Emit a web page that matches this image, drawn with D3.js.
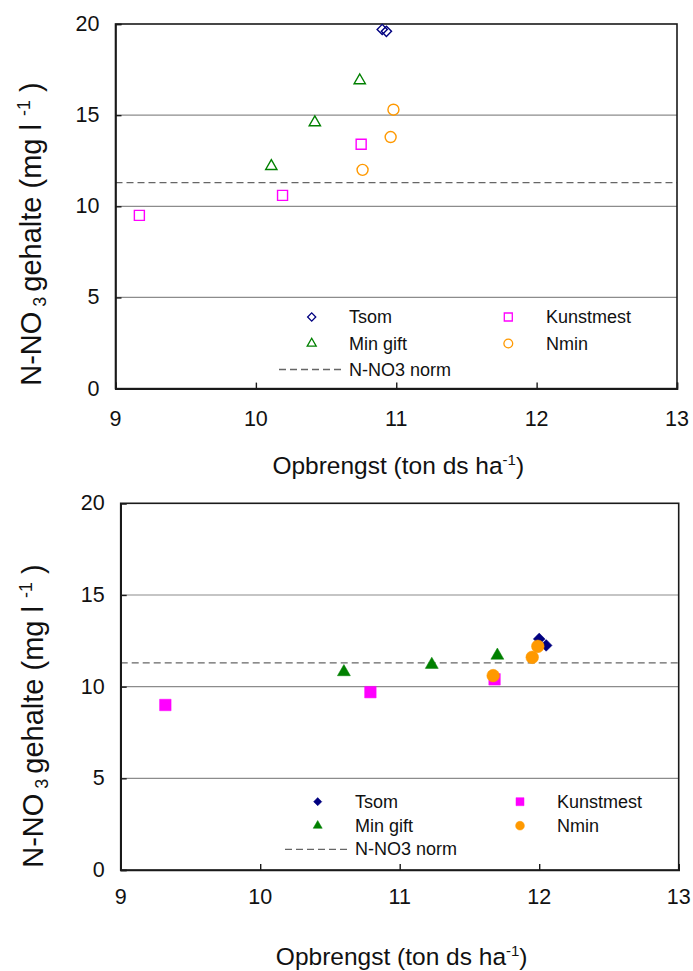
<!DOCTYPE html>
<html>
<head>
<meta charset="utf-8">
<script src="https://cdn.jsdelivr.net/npm/d3@7"></script>
<style>
  html, body { margin: 0; padding: 0; background: #fff; }
  svg { display: block; }
  text { font-family: "Liberation Sans", Arial, sans-serif; fill: #111; }
</style>
</head>
<body>
<svg id="chart" width="693" height="971"></svg>
<script>
// ---------- data ----------
const seriesNames = ["Tsom", "Kunstmest", "Min gift", "Nmin"];
const normLabel = "N-NO3 norm";
const xTicks = [9, 10, 11, 12, 13];
const yTicks = [0, 5, 10, 15, 20];
const gridValues = [5, 10, 15];
const normValue = 11.3;

// top panel (open markers)
const tsomX1 = [10.90, 10.93];
const tsomY1 = [19.7, 19.6];
const kunstX1 = [9.17, 10.19, 10.75];
const kunstY1 = [9.5, 10.6, 13.4];
const minX1 = [10.11, 10.42, 10.74];
const minY1 = [12.2, 14.6, 16.9];
const nminX1 = [10.76, 10.96, 10.98];
const nminY1 = [12.0, 13.8, 15.3];

// bottom panel (filled markers)
const tsomX2 = [12.00, 12.05];
const tsomY2 = [12.6, 12.25];
const kunstX2 = [9.32, 10.79, 11.68];
const kunstY2 = [9.0, 9.7, 10.4];
const minX2 = [10.60, 11.23, 11.70];
const minY2 = [10.8, 11.2, 11.7];
const nminX2 = [11.67, 11.95, 11.99];
const nminY2 = [10.6, 11.6, 12.2];

const colors = {"Tsom": "#000080", "Kunstmest": "#FF00FF", "Min gift": "#008000", "Nmin": "#FF9900"};
const shapes = {"Tsom": "diamond", "Kunstmest": "square", "Min gift": "triangle", "Nmin": "circle"};

const svg = d3.select("#chart");

function symbolPath(shape, scale) {
  const s = scale || 1;
  if (shape === "diamond") return d3.symbol(d3.symbolSquare, 52 * s * s)();
  if (shape === "square") return d3.symbol(d3.symbolSquare, 100 * s * s)();
  if (shape === "triangle") return d3.symbol(d3.symbolTriangle, 55 * s * s)();
  return d3.symbol(d3.symbolCircle, 95 * s * s)();
}

function drawPanel(cfg) {
  const x = d3.scaleLinear().domain([9, 13]).range([cfg.left, cfg.right]);
  const y = d3.scaleLinear().domain([0, 20]).range([cfg.bottom, cfg.top]);
  const g = svg.append("g");

  // gridlines
  g.selectAll("line.grid").data(gridValues).join("line")
    .attr("x1", cfg.left).attr("x2", cfg.right)
    .attr("y1", d => y(d)).attr("y2", d => y(d))
    .attr("stroke", "#8c8c8c").attr("stroke-width", 1.2);

  // norm line
  g.append("line")
    .attr("x1", cfg.left).attr("x2", cfg.right)
    .attr("y1", y(normValue)).attr("y2", y(normValue))
    .attr("stroke", "#666").attr("stroke-width", 1.3)
    .attr("stroke-dasharray", "7,4");

  // frame
  g.append("rect")
    .attr("x", cfg.left).attr("y", cfg.top)
    .attr("width", cfg.right - cfg.left).attr("height", cfg.bottom - cfg.top)
    .attr("fill", "none").attr("stroke", "#1a1a1a").attr("stroke-width", 1.6);

  // axes (ticks inward)
  const xAxis = d3.axisBottom(x).tickValues(xTicks).tickSize(-6).tickFormat("");
  g.append("g").attr("transform", `translate(0,${cfg.bottom})`).call(xAxis)
    .call(a => a.select(".domain").attr("stroke", "#1a1a1a").attr("stroke-width", 1.6))
    .call(a => a.selectAll(".tick line").attr("stroke", "#1a1a1a").attr("stroke-width", 1.4));
  const yAxis = d3.axisLeft(y).tickValues(yTicks).tickSize(-6).tickFormat("");
  g.append("g").attr("transform", `translate(${cfg.left},0)`).call(yAxis)
    .call(a => a.select(".domain").attr("stroke", "#1a1a1a").attr("stroke-width", 1.6))
    .call(a => a.selectAll(".tick line").attr("stroke", "#1a1a1a").attr("stroke-width", 1.4));

  // tick labels
  g.selectAll("text.xt").data(xTicks).join("text")
    .attr("x", d => x(d)).attr("y", cfg.xLabelY)
    .attr("text-anchor", "middle").attr("dominant-baseline", "central")
    .attr("font-size", 21.5).text(d => d);
  g.selectAll("text.yt").data(yTicks).join("text")
    .attr("x", cfg.left - 16).attr("y", d => y(d))
    .attr("text-anchor", "end").attr("dominant-baseline", "central")
    .attr("font-size", 21.5).text(d => d);

  // axis titles
  const xt = g.append("text")
    .attr("x", (cfg.left + cfg.right) / 2 + 2).attr("y", cfg.xTitleY)
    .attr("text-anchor", "middle").attr("font-size", 24.5);
  xt.append("tspan").text("Opbrengst (ton ds ha");
  xt.append("tspan").attr("dy", -9).attr("font-size", 15).text("-1");
  xt.append("tspan").attr("dy", 9).text(")");

  const yt = g.append("text")
    .attr("transform", `translate(${cfg.yTitleX},${cfg.yTitleY}) rotate(-90)`)
    .attr("text-anchor", "middle").attr("font-size", 29);
  yt.append("tspan").text("N-NO");
  yt.append("tspan").attr("dy", 5).attr("font-size", 18).text(" 3 ");
  yt.append("tspan").attr("dy", -5).text("gehalte (mg l ");
  yt.append("tspan").attr("dy", -11).attr("font-size", 18).text("-1");
  yt.append("tspan").attr("dy", 11).text(" )");

  // markers
  const series = [
    ["Tsom", cfg.tsomX, cfg.tsomY],
    ["Kunstmest", cfg.kunstX, cfg.kunstY],
    ["Min gift", cfg.minX, cfg.minY],
    ["Nmin", cfg.nminX, cfg.nminY]
  ];
  series.forEach(([name, xs, ys]) => {
    const pts = xs.map((v, i) => ({x: v, y: ys[i]}));
    const shape = shapes[name];
    g.selectAll(null).data(pts).join("path")
      .attr("d", symbolPath(shape, cfg.filled ? 1.15 : 1))
      .attr("transform", d => `translate(${x(d.x)},${y(d.y)})` + (shape === "diamond" ? " rotate(45)" : ""))
      .attr("fill", cfg.filled ? colors[name] : "none")
      .attr("stroke", colors[name])
      .attr("stroke-width", cfg.filled ? 0.5 : 1.4);
  });

  // legend
  const L = cfg.legend;
  const legendItems = [
    {name: "Tsom", mx: L.col1, ty: L.row1, tx: L.text1},
    {name: "Kunstmest", mx: L.col2, ty: L.row1, tx: L.text2},
    {name: "Min gift", mx: L.col1, ty: L.row2, tx: L.text1},
    {name: "Nmin", mx: L.col2, ty: L.row2, tx: L.text2}
  ];
  legendItems.forEach(it => {
    const shape = shapes[it.name];
    g.append("path")
      .attr("d", symbolPath(shape, 0.8))
      .attr("transform", `translate(${it.mx},${it.ty})` + (shape === "diamond" ? " rotate(45)" : ""))
      .attr("fill", cfg.filled ? colors[it.name] : "none")
      .attr("stroke", colors[it.name]).attr("stroke-width", cfg.filled ? 0.5 : 1.3);
    g.append("text").attr("x", it.tx).attr("y", it.ty)
      .attr("dominant-baseline", "central").attr("font-size", 18).text(it.name);
  });
  g.append("line")
    .attr("x1", L.dash1).attr("x2", L.dash2)
    .attr("y1", L.row3).attr("y2", L.row3)
    .attr("stroke", "#666").attr("stroke-width", 1.3).attr("stroke-dasharray", "7,4");
  g.append("text").attr("x", L.text1).attr("y", L.row3)
    .attr("dominant-baseline", "central").attr("font-size", 18).text(normLabel);
}

drawPanel({
  left: 115.5, right: 677, top: 24, bottom: 388.6,
  xLabelY: 419, xTitleY: 474, yTitleX: 41, yTitleY: 234,
  tsomX: tsomX1, tsomY: tsomY1, kunstX: kunstX1, kunstY: kunstY1,
  minX: minX1, minY: minY1, nminX: nminX1, nminY: nminY1,
  filled: false,
  legend: {col1: 311.7, col2: 508.3, text1: 349, text2: 546, row1: 317, row2: 343.5, row3: 369.5, dash1: 279, dash2: 345}
});

drawPanel({
  left: 120.7, right: 678.7, top: 503.3, bottom: 870,
  xLabelY: 897, xTitleY: 965, yTitleX: 43, yTitleY: 716,
  tsomX: tsomX2, tsomY: tsomY2, kunstX: kunstX2, kunstY: kunstY2,
  minX: minX2, minY: minY2, nminX: nminX2, nminY: nminY2,
  filled: true,
  legend: {col1: 317.7, col2: 520, text1: 355, text2: 557, row1: 801.7, row2: 825.7, row3: 849.3, dash1: 285, dash2: 350}
});
</script>
</body>
</html>
